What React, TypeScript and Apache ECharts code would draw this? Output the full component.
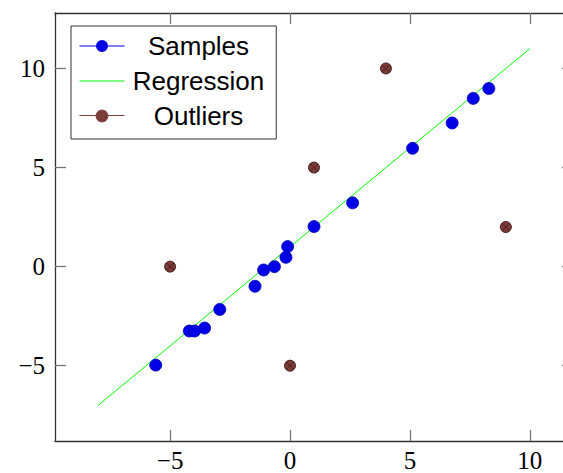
import React, { useEffect, useRef } from "react";
import * as echarts from "echarts";

const sampleX = [-5.6, -4.2, -3.98, -3.56, -2.93, -1.46, -1.1, -0.65, -0.17, -0.1, 1.0, 2.61, 5.11, 6.76, 7.64, 8.29];
const sampleY = [-4.97, -3.25, -3.25, -3.1, -2.16, -0.99, -0.17, 0.0, 0.47, 1.01, 2.02, 3.22, 5.97, 7.25, 8.49, 8.99];
const regressionX = [-8, 10];
const regressionY = [-7, 11];
const outlierX = [-5, 0, 1, 4, 9];
const outlierY = [0, -5, 5, 10, 2];
const xTicks = [-5, 0, 5, 10];
const yTicks = [-5, 0, 5, 10];

const fmt = (v: number) => (v < 0 ? "\u2212" + Math.abs(v) : String(v));
const otimes =
  "path://M0,-10 A10,10 0 1,1 0,10 A10,10 0 1,1 0,-10 Z M-7.07,-7.07 L7.07,7.07 M7.07,-7.07 L-7.07,7.07";
const legendDot =
  "path://M0,7.5 L45,7.5 L45,8.5 L0,8.5 Z M22.5,2 A6,6 0 1,1 22.5,14 A6,6 0 1,1 22.5,2 Z";
const legendOtimes =
  "path://M0,7.5 L16.5,7.5 M28.5,7.5 L45,7.5 M22.5,2 A6,6 0 1,1 22.5,14 A6,6 0 1,1 22.5,2 Z M18.26,3.76 L26.74,12.24 M26.74,3.76 L18.26,12.24";
const legendLine = "path://M0,7.5 L45,7.5 L45,8.5 L0,8.5 Z";

export default function App() {
  const ref = useRef<HTMLDivElement>(null);
  useEffect(() => {
    if (!ref.current) return;
    const chart = echarts.init(ref.current, undefined, { renderer: "svg" });
    const axisColor = "#333";
    const labelFont = { fontFamily: "Liberation Serif", fontSize: 25, color: "#000" };
    const tickStyle = { color: "#777", width: 1.3 };
    chart.setOption({
      animation: false,
      backgroundColor: "#fff",
      grid: { left: 55, top: 13, width: 518, height: 430, containLabel: false },
      xAxis: [
        {
          type: "value",
          position: "bottom",
          min: -9.8,
          max: 11.8,
          splitLine: { show: false },
          axisLine: { show: true, onZero: false, lineStyle: { color: axisColor, width: 1.3 } },
          axisTick: { show: true, inside: true, length: 11, customValues: xTicks, lineStyle: tickStyle },
          axisLabel: { customValues: xTicks, formatter: fmt, margin: 7, ...labelFont },
        },
        {
          type: "value",
          position: "top",
          min: -9.8,
          max: 11.8,
          splitLine: { show: false },
          axisLine: { show: true, onZero: false, lineStyle: { color: axisColor, width: 1.3 } },
          axisTick: { show: true, inside: true, length: 11, customValues: xTicks, lineStyle: tickStyle },
          axisLabel: { show: false },
        },
      ],
      yAxis: [
        {
          type: "value",
          position: "left",
          min: -8.8,
          max: 12.8,
          splitLine: { show: false },
          axisLine: { show: true, onZero: false, lineStyle: { color: axisColor, width: 1.3 } },
          axisTick: { show: true, inside: true, length: 11, customValues: yTicks, lineStyle: tickStyle },
          axisLabel: { customValues: yTicks, formatter: fmt, margin: 10, ...labelFont },
        },
        {
          type: "value",
          position: "right",
          min: -8.8,
          max: 12.8,
          splitLine: { show: false },
          axisLine: { show: true, onZero: false, lineStyle: { color: axisColor, width: 1.3 } },
          axisTick: { show: true, inside: true, length: 11, customValues: yTicks, lineStyle: tickStyle },
          axisLabel: { show: false },
        },
      ],
      legend: {
        orient: "vertical",
        left: 71,
        top: 26,
        padding: [7, 12, 10, 8],
        itemGap: 9,
        itemWidth: 45,
        itemHeight: 15,
        itemTextGap: 4,
        borderColor: "#333",
        borderWidth: 1,
        backgroundColor: "#fff",
        selectedMode: false,
        formatter: (name: string) => `{t|${name}}`,
        textStyle: {
          rich: {
            t: { width: 138, align: "center", fontFamily: "Liberation Sans", fontSize: 26, color: "#000" },
          },
        },
        data: [
          { name: "Samples", icon: legendDot, itemStyle: { color: "#0000e6", borderColor: "#0000e6", borderWidth: 0 } },
          { name: "Regression", icon: legendLine, itemStyle: { color: "#00ff00", borderWidth: 0 } },
          { name: "Outliers", icon: legendOtimes, itemStyle: { color: "#7b3b37", borderColor: "#7b4040", borderWidth: 1 } },
        ],
      },
      series: [
        {
          name: "Regression",
          type: "line",
          data: regressionX.map((x, i) => [x, regressionY[i]]),
          showSymbol: false,
          symbol: "none",
          lineStyle: { color: "#00ff00", width: 1 },
          itemStyle: { color: "#00ff00" },
          z: 1,
        },
        {
          name: "Samples",
          type: "line",
          data: sampleX.map((x, i) => [x, sampleY[i]]),
          symbol: "circle",
          symbolSize: 12,
          showSymbol: true,
          lineStyle: { opacity: 0, color: "#0000ff", width: 1 },
          itemStyle: { color: "#0000e6", borderColor: "#0000b4", borderWidth: 0.8, opacity: 1 },
          z: 3,
        },
        {
          name: "Outliers",
          type: "line",
          data: outlierX.map((x, i) => [x, outlierY[i]]),
          symbol: otimes,
          symbolSize: 11,
          showSymbol: true,
          lineStyle: { opacity: 0, color: "#8a4a4a", width: 1 },
          itemStyle: { color: "#7b3b37", borderColor: "#4a2020", borderWidth: 1, opacity: 1 },
          z: 3,
        },
      ],
    });
    return () => chart.dispose();
  }, []);
  return (
    <div
      ref={ref}
      style={{ position: "fixed", left: 0, top: 0, width: 600, height: 473, background: "#fff" }}
    />
  );
}
